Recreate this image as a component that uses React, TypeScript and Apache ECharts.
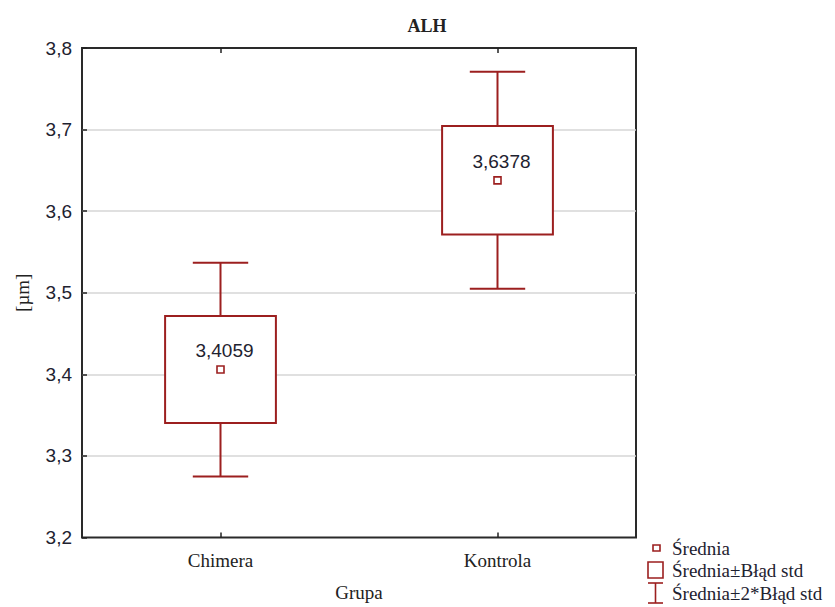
import React, { useEffect, useRef } from "react";
import * as echarts from "echarts";

const categories = ["Chimera", "Kontrola"];
const means = [3.4059, 3.6378];
const stdErrors = [0.0655, 0.0665];
const yTicks = [3.2, 3.3, 3.4, 3.5, 3.6, 3.7, 3.8];
const legendLabels = ["Średnia", "Średnia±Błąd std", "Średnia±2*Błąd std"];

const RED = "#9c1f1f";
const SERIF = "'Liberation Serif', 'Times New Roman', serif";
const SANS = "'Liberation Sans', Arial, sans-serif";
const fmt = (v: number, d: number) => v.toFixed(d).replace(".", ",");

export default function App() {
  const ref = useRef<HTMLDivElement>(null);
  useEffect(() => {
    if (!ref.current) return;
    const chart = echarts.init(ref.current, null, { renderer: "svg" });
    const data = categories.map((c, i) => [
      i,
      means[i] - 2 * stdErrors[i],
      means[i] - stdErrors[i],
      means[i],
      means[i] + stdErrors[i],
      means[i] + 2 * stdErrors[i],
    ]);
    const option: any = {
      animation: false,
      backgroundColor: "#ffffff",
      title: {
        text: "ALH",
        left: 422,
        top: 12,
        textAlign: "center",
        textStyle: { fontFamily: SERIF, fontSize: 18, fontWeight: "bold", color: "#222" },
      },
      grid: {
        left: 82,
        right: 199,
        top: 48,
        bottom: 69,
        show: true,
        borderColor: "#2a2a2a",
        borderWidth: 2,
        backgroundColor: "transparent",
      },
      xAxis: [
        {
          type: "category",
          data: categories,
          position: "bottom",
          boundaryGap: true,
          axisLine: { show: false },
          axisTick: { show: true, inside: true, alignWithLabel: true, length: 5, lineStyle: { color: "#222", width: 1.5 } },
          axisLabel: { margin: 13, fontFamily: SERIF, fontSize: 19, color: "#222" },
          name: "Grupa",
          nameLocation: "middle",
          nameGap: 55,
          nameTextStyle: { fontFamily: SERIF, fontSize: 19, color: "#222", verticalAlign: "middle" },
          splitLine: { show: false },
        },
        {
          type: "category",
          data: categories,
          position: "top",
          boundaryGap: true,
          axisLine: { show: false },
          axisTick: { show: true, inside: true, alignWithLabel: true, length: 5, lineStyle: { color: "#222", width: 1.5 } },
          axisLabel: { show: false },
          splitLine: { show: false },
        },
      ],
      yAxis: {
        type: "value",
        min: 3.2,
        max: 3.8,
        interval: 0.1,
        axisLine: { show: false },
        axisTick: { show: true, inside: true, length: 5, lineStyle: { color: "#222", width: 1.5 } },
        axisLabel: {
          margin: 10,
          fontFamily: SANS,
          fontSize: 19,
          color: "#1e2230",
          formatter: (v: number) => {
            const t = yTicks.find((k) => Math.abs(k - v) < 1e-6);
            return fmt(t !== undefined ? t : v, 1);
          },
        },
        splitLine: { show: true, showMinLine: false, showMaxLine: false, lineStyle: { color: "#d6d6d6", width: 1.5 } },
        name: "[µm]",
        nameLocation: "middle",
        nameGap: 60,
        nameRotate: 90,
        nameTextStyle: { fontFamily: SERIF, fontSize: 19, color: "#222", verticalAlign: "middle" },
      },
      series: [
        {
          type: "custom",
          xAxisIndex: 0,
          yAxisIndex: 0,
          data,
          z: 5,
          renderItem: (params: any, api: any) => {
            const idx = api.value(0);
            const band = api.size([1, 0])[0];
            const boxW = band * 0.4;
            const capW = band * 0.2;
            const pLow2 = api.coord([idx, api.value(1)]);
            const pLow1 = api.coord([idx, api.value(2)]);
            const pMean = api.coord([idx, api.value(3)]);
            const pHigh1 = api.coord([idx, api.value(4)]);
            const pHigh2 = api.coord([idx, api.value(5)]);
            const x = pMean[0];
            const ls = { stroke: RED, lineWidth: 2, fill: null };
            return {
              type: "group",
              children: [
                { type: "line", shape: { x1: x, y1: pHigh2[1], x2: x, y2: pHigh1[1] }, style: ls },
                { type: "line", shape: { x1: x, y1: pLow1[1], x2: x, y2: pLow2[1] }, style: ls },
                { type: "line", shape: { x1: x - capW / 2, y1: pHigh2[1], x2: x + capW / 2, y2: pHigh2[1] }, style: ls },
                { type: "line", shape: { x1: x - capW / 2, y1: pLow2[1], x2: x + capW / 2, y2: pLow2[1] }, style: ls },
                {
                  type: "rect",
                  shape: { x: x - boxW / 2, y: pHigh1[1], width: boxW, height: pLow1[1] - pHigh1[1] },
                  style: { stroke: RED, lineWidth: 2, fill: "#ffffff" },
                },
                {
                  type: "rect",
                  shape: { x: x - 3.5, y: pMean[1] - 3.5, width: 7, height: 7 },
                  style: { stroke: RED, lineWidth: 1.6, fill: "#ffffff" },
                },
                {
                  type: "text",
                  x: x + 4,
                  y: pMean[1] - 19,
                  style: {
                    text: fmt(api.value(3), 4),
                    fontFamily: SANS,
                    fontSize: 19,
                    fill: "#1e2230",
                    align: "center",
                    verticalAlign: "middle",
                  },
                },
              ],
            };
          },
        },
      ],
      graphic: [
        { type: "rect", shape: { x: 653, y: 545, width: 7, height: 6 }, style: { stroke: RED, lineWidth: 1.6, fill: "#fff" } },
        { type: "rect", shape: { x: 648, y: 562, width: 15, height: 16 }, style: { stroke: RED, lineWidth: 1.6, fill: "#fff" } },
        { type: "line", shape: { x1: 655.5, y1: 583, x2: 655.5, y2: 603 }, style: { stroke: RED, lineWidth: 1.6 } },
        { type: "line", shape: { x1: 648, y1: 583, x2: 663, y2: 583 }, style: { stroke: RED, lineWidth: 1.6 } },
        { type: "line", shape: { x1: 648, y1: 603, x2: 663, y2: 603 }, style: { stroke: RED, lineWidth: 1.6 } },
        ...legendLabels.map((t, i) => ({
          type: "text",
          x: 672,
          y: [548, 570, 593][i],
          style: { text: t, fontFamily: SERIF, fontSize: 19, fill: "#1e2230", verticalAlign: "middle", align: "left" },
        })),
      ],
    };
    chart.setOption(option);
    return () => chart.dispose();
  }, []);
  return <div ref={ref} style={{ position: "absolute", left: 0, top: 0, width: 835, height: 607 }} />;
}
